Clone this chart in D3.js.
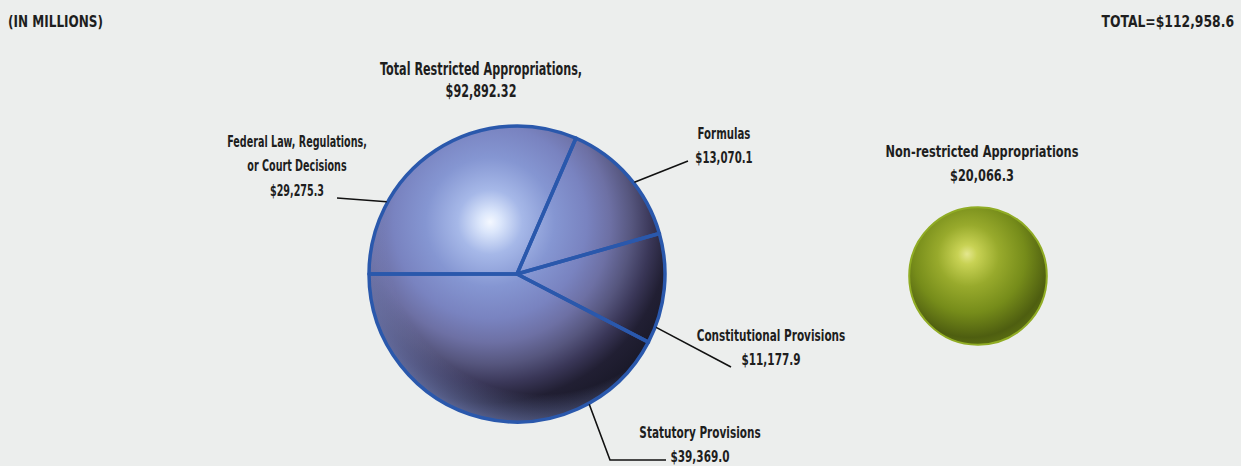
<!DOCTYPE html>
<html>
<head>
<meta charset="utf-8">
<script src="https://cdn.jsdelivr.net/npm/d3@7"></script>
<style>
  html, body { margin: 0; padding: 0; background: #eceeed; }
  svg { display: block; }
  text { font-family: "DejaVu Sans", "Liberation Sans", sans-serif; font-weight: bold; fill: #1e1e1e; }
</style>
</head>
<body>
<svg id="chart" width="1241" height="466"></svg>
<script>
// Restricted appropriations, by source (in millions of dollars)
const categories = ["Federal Law, Regulations, or Court Decisions", "Formulas", "Constitutional Provisions", "Statutory Provisions"];
const values = [29275.3, 13070.1, 11177.9, 39369.0];
const valueLabels = ["$29,275.3", "$13,070.1", "$11,177.9", "$39,369.0"];

const restrictedTotal = 92892.32;
const restrictedTotalLabel = "$92,892.32";
const nonRestricted = 20066.3;
const nonRestrictedLabel = "$20,066.3";
const grandTotalLabel = "TOTAL=$112,958.6";

const W = 1241, H = 466;
const svg = d3.select("#chart");

svg.append("rect").attr("width", W).attr("height", H).attr("fill", "#eceeed");

const defs = svg.append("defs");

// sphere sizes: area proportional to amount
const rScale = d3.scaleSqrt().domain([0, restrictedTotal]).range([0, 148]);
const big = { cx: 517, cy: 274, r: rScale(restrictedTotal) };
const small = { cx: 978, cy: 276, r: rScale(nonRestricted) };

// blue sphere shading, in the pie group's own coordinates (origin = sphere centre)
const bg = defs.append("radialGradient").attr("id", "blueSphere")
  .attr("gradientUnits", "userSpaceOnUse")
  .attr("cx", -27).attr("cy", -52).attr("r", 215)
  .attr("fx", -27).attr("fy", -52);
[[0, "#f4f8ff"], [0.05, "#dbe6fb"], [0.15, "#a6b8e8"], [0.3, "#8596d2"], [0.45, "#7983c0"],
 [0.56, "#6d70a4"], [0.66, "#56567e"], [0.75, "#3a3758"], [0.84, "#211f33"], [1, "#161624"]]
  .forEach(([o, c]) => bg.append("stop").attr("offset", o).attr("stop-color", c));

// reflected light along the lower and left rim
const rim = defs.append("radialGradient").attr("id", "blueRim")
  .attr("gradientUnits", "userSpaceOnUse")
  .attr("cx", big.cx + 25).attr("cy", big.cy - 35).attr("r", 194);
[[0, "rgba(125,140,200,0)"], [0.8, "rgba(125,140,200,0)"], [1, "rgba(125,140,200,0.7)"]]
  .forEach(([o, c]) => rim.append("stop").attr("offset", o).attr("stop-color", c));

// green sphere shading
const gg = defs.append("radialGradient").attr("id", "greenSphere")
  .attr("cx", 0.45).attr("cy", 0.38).attr("r", 0.7).attr("fx", 0.42).attr("fy", 0.34);
[[0, "#e4e78e"], [0.1, "#c8d254"], [0.32, "#98aa2c"], [0.58, "#768c1a"], [0.82, "#4e5e10"], [1, "#667c14"]]
  .forEach(([o, c]) => gg.append("stop").attr("offset", o).attr("stop-color", c));

// pie of the restricted amount, starting at 9 o'clock and running clockwise
const pie = d3.pie().sort(null).value(d => d)
  .startAngle(-Math.PI / 2).endAngle(Math.PI * 1.5);
const arcs = pie(values);
const arc = d3.arc().innerRadius(0).outerRadius(big.r);

svg.append("g").attr("transform", `translate(${big.cx},${big.cy})`)
  .selectAll("path").data(arcs).join("path")
  .attr("d", arc)
  .attr("fill", "url(#blueSphere)");

svg.append("circle").attr("cx", big.cx).attr("cy", big.cy).attr("r", big.r)
  .attr("fill", "url(#blueRim)");

// slice borders
svg.append("g").attr("transform", `translate(${big.cx},${big.cy})`)
  .selectAll("path").data(arcs).join("path")
  .attr("d", arc)
  .attr("fill", "none")
  .attr("stroke", "#2a58ac")
  .attr("stroke-width", 3.5)
  .attr("stroke-linejoin", "round");

// green sphere
svg.append("circle").attr("cx", small.cx).attr("cy", small.cy).attr("r", small.r)
  .attr("fill", "url(#greenSphere)")
  .attr("stroke", "#90ac24").attr("stroke-width", 2);

// condensed text block: lines stacked, squeezed horizontally
function textBlock(x, y, lines, size, anchor, gap, squeeze) {
  const t = svg.append("text")
    .attr("transform", `translate(${x},${y}) scale(${squeeze},1)`)
    .attr("text-anchor", anchor).attr("font-size", size);
  lines.forEach((s, j) => t.append("tspan").attr("x", 0).attr("y", j * gap).text(s));
  return t;
}

// leader lines and labels
const labelLayout = [
  { angle: 299, pts: [[337, 198]], lines: ["Federal Law, Regulations,", "or Court Decisions"], x: 297, y: 147, squeeze: 0.64 },
  { angle: 52, pts: [[688, 161]], lines: ["Formulas"], x: 724, y: 139, squeeze: 0.68 },
  { angle: 111, pts: [[731, 367]], lines: ["Constitutional Provisions"], x: 771, y: 341, squeeze: 0.70 },
  { angle: 151, pts: [[610, 460], [666, 460]], lines: ["Statutory Provisions"], x: 700, y: 438, squeeze: 0.70 }
];
const lineGen = d3.line();
labelLayout.forEach((L, i) => {
  const a = L.angle * Math.PI / 180;
  const start = [big.cx + Math.sin(a) * (big.r + 1), big.cy - Math.cos(a) * (big.r + 1)];
  svg.append("path").attr("d", lineGen([start, ...L.pts]))
    .attr("fill", "none").attr("stroke", "#111").attr("stroke-width", 1.6);
  textBlock(L.x, L.y, [...L.lines, valueLabels[i]], 15, "middle", 24.5, L.squeeze);
});

// titles
textBlock(8, 27, ["(IN MILLIONS)"], 16.5, "start", 0, 0.73);
textBlock(1234, 27, [grandTotalLabel], 16.5, "end", 0, 0.75);
textBlock(481, 75, ["Total Restricted Appropriations,", restrictedTotalLabel], 17.5, "middle", 22, 0.64);
textBlock(982, 157, ["Non-restricted Appropriations", nonRestrictedLabel], 16.5, "middle", 24, 0.69);
</script>
</body>
</html>
